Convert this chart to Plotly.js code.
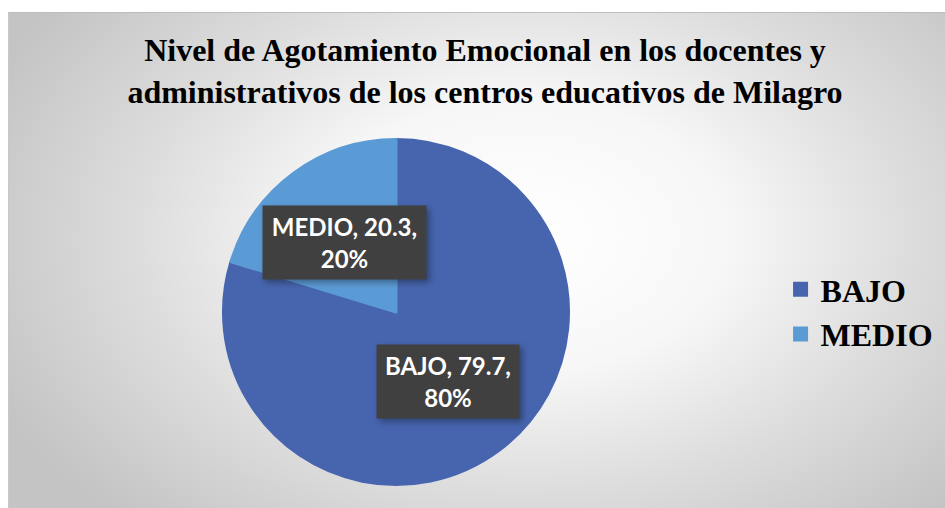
<!DOCTYPE html>
<html>
<head>
<meta charset="utf-8">
<script src="https://cdn.plot.ly/plotly-3.0.1.min.js"></script>
<style>
  html, body { margin: 0; padding: 0; background: #ffffff; }
  #wrap { position: relative; width: 945px; height: 508px; overflow: hidden; }
  #panel {
    position: absolute; left: 8px; top: 12px; width: 937px; height: 496px;
    border-top: 1px solid #bdbdbd; border-left: 1px solid #c8c8c8; box-sizing: border-box;
    background: radial-gradient(ellipse 62% 78% at 55% 45%, #ffffff 0%, #f7f7f7 35%, #dedede 65%, #c4c4c4 100%);
  }
  #chart { position: absolute; left: 0; top: 0; width: 945px; height: 508px; }
  .annotation .bg { filter: drop-shadow(3px 3px 3px rgba(0,0,0,0.35)); }
</style>
</head>
<body>
<div id="wrap">
  <div id="panel"></div>
  <div id="chart"></div>
</div>
<script>
const categories = ['BAJO', 'MEDIO'];
const seriesValues = [79.7, 20.3];
const sliceColors = ['#4765AE', '#5B9BD5'];
const chartTitle = 'Nivel de Agotamiento Emocional en los docentes y<br>administrativos de los centros educativos de Milagro';
const figureCaption = 'Gráfico 1';

const W = 945, H = 508;
const cx = 396, cy = 312, R = 174;
const edge = 3;
const Rd = R - edge / 2;

const total = seriesValues.reduce((a, b) => a + b, 0);
const annotations = [];
let cum = 0;
const boxWidths = [132, 153];
categories.forEach((cat, i) => {
  const v = seriesValues[i];
  const mid = (cum + v / 2) / total;
  cum += v;
  const th = mid * 2 * Math.PI;
  const px = cx + 0.5 * R * Math.sin(th);
  const py = cy - 0.5 * R * Math.cos(th);
  const pct = Math.round(v / total * 100);
  annotations.push({
    xref: 'paper', yref: 'paper', x: px / W, y: 1 - py / H,
    xanchor: 'center', yanchor: 'middle', showarrow: false,
    text: '<b>' + cat + ', ' + v + ',<br>' + pct + '%</b>',
    font: { family: 'Lato, "Open Sans", sans-serif', size: 24, color: '#ffffff' },
    bgcolor: '#404040', borderpad: 5, width: boxWidths[i], height: 63, align: 'center'
  });
});
annotations.push({
  xref: 'paper', yref: 'paper', x: 466 / W, y: 1 + 15 / H,
  xanchor: 'center', yanchor: 'middle', showarrow: false,
  text: '<b>' + figureCaption + '</b>',
  font: { family: '"Liberation Serif", "Times New Roman", serif', size: 27, color: '#000000' }
});

const data = [{
  type: 'pie',
  labels: categories,
  values: seriesValues,
  sort: false,
  direction: 'clockwise',
  rotation: 0,
  textinfo: 'none',
  marker: { colors: sliceColors, line: { width: edge, color: sliceColors } },
  domain: { x: [(cx - Rd) / W, (cx + Rd) / W], y: [1 - (cy + Rd) / H, 1 - (cy - Rd) / H] },
  hoverinfo: 'label+value+percent'
}];

const layout = {
  width: W, height: H,
  margin: { l: 0, r: 0, t: 0, b: 0 },
  paper_bgcolor: 'rgba(0,0,0,0)',
  plot_bgcolor: 'rgba(0,0,0,0)',
  title: {
    text: '<b>' + chartTitle + '</b>',
    font: { family: '"Liberation Serif", "Times New Roman", serif', size: 32, color: '#000000' },
    x: 485 / W, xanchor: 'center', xref: 'paper',
    y: 1 - 61 / H, yanchor: 'top', yref: 'container'
  },
  showlegend: true,
  legend: {
    x: 0.826, y: 1 - 312 / H, xanchor: 'left', yanchor: 'middle',
    bgcolor: 'rgba(0,0,0,0)',
    font: { family: '"Liberation Serif", "Times New Roman", serif', size: 32, color: '#000000', weight: 'bold' }
  },
  annotations: annotations
};

Plotly.newPlot('chart', data, layout, { displayModeBar: false, staticPlot: true });
</script>
</body>
</html>
